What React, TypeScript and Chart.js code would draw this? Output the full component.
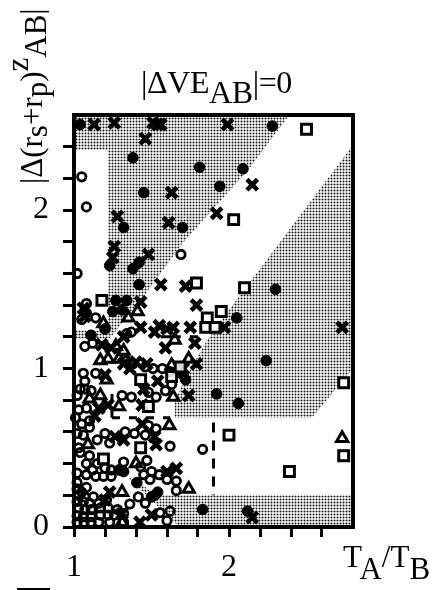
import React, { useEffect, useRef } from "react";
import { Chart, registerables } from "chart.js";

Chart.register(...registerables);

type P = [number, number];

const xTicksMin = 1, xTicksMax = 2.8, yTicksMin = 0, yTicksMax = 2.6, tickStep = 0.2;

const filledCircles: P[] = [[1.04,2.54],[2.28,2.53],[1.38,2.33],[1.81,2.27],[2.09,2.26],[1.94,2.15],[1.45,2.11],[1.32,1.89],[1.70,1.89],[1.23,1.65],[1.38,1.63],[1.42,1.67],[1.42,1.53],[2.30,1.50],[1.27,1.43],[1.34,1.43],[2.05,1.32],[1.25,1.36],[1.31,1.37],[2.24,1.05],[1.92,0.84],[2.06,0.78],[1.83,0.11],[2.12,0.10],[1.11,1.21],[1.20,1.25],[1.405,0.28],[1.32,0.35],[1.29,0.36],[1.52,0.20],[1.54,0.22],[1.50,0.19],[1.705,0.96],[1.72,0.93]];

const crosses: P[] = [[1.13,2.54],[1.26,2.55],[1.51,2.55],[1.56,2.54],[1.54,2.54],[1.99,2.54],[1.46,2.45],[1.63,2.11],[2.15,2.16],[1.92,1.98],[1.61,1.92],[1.28,1.96],[1.26,1.77],[1.25,1.70],[1.48,1.72],[1.56,1.53],[1.72,1.52],[1.43,1.42],[1.79,1.40],[1.06,1.38],[1.43,1.26],[1.55,1.27],[1.64,1.26],[1.75,1.26],[1.97,1.26],[2.73,1.26],[2.15,0.06],[1.60,1.25],[1.52,1.23],[1.59,1.13],[1.78,1.16],[1.32,1.20],[1.18,1.15],[1.32,1.03],[1.36,1.00],[1.40,1.04],[1.47,1.03],[1.79,1.03],[1.74,0.83],[1.54,0.92],[1.45,0.87],[1.44,0.77],[1.22,0.77],[1.44,0.65],[1.52,0.57],[1.53,0.52],[1.32,0.55],[1.265,0.57],[1.66,0.37],[1.60,0.35],[1.23,0.22],[1.425,0.03],[1.50,0.076],[1.20,0.17],[1.31,0.085],[1.16,0.75],[1.135,0.70],[1.20,0.96],[1.07,1.33],[1.24,1.13],[1.705,1.00]];

const squares: P[] = [[2.50,2.51],[2.03,1.94],[1.79,1.54],[2.10,1.51],[1.18,1.43],[1.95,1.36],[1.86,1.32],[1.85,1.26],[1.91,1.26],[2.74,0.91],[2.00,0.58],[2.74,0.45],[2.39,0.35],[1.43,0.93],[1.63,0.95],[1.685,1.01],[1.48,0.76],[1.19,0.43],[1.43,0.50]];

const triangles: P[] = [[2.73,0.56],[1.41,1.36],[1.35,1.32],[1.19,1.285],[1.65,1.18],[1.27,1.14],[1.32,1.11],[1.22,1.06],[1.17,1.05],[1.29,1.06],[1.63,1.02],[1.74,1.06],[1.21,0.93],[1.17,0.83],[1.10,0.81],[1.29,0.76],[1.64,0.82],[1.09,0.52],[1.40,0.40],[1.31,0.22],[1.74,0.24],[1.615,0.64],[1.31,0.03]];

const hollowCircles: P[] = [[1.05,2.21],[1.08,2.02],[1.69,1.72],[1.02,1.60],[1.08,1.41],[1.05,1.31],[1.08,1.35],[1.14,1.32],[1.07,1.14],[1.12,1.16],[1.37,1.23],[1.34,1.22],[1.34,1.05],[1.38,1.03],[1.46,1.01],[1.51,1.00],[1.57,1.00],[1.62,0.98],[1.06,0.97],[1.14,0.97],[1.07,0.92],[1.04,0.87],[1.07,0.87],[1.02,0.83],[1.11,0.86],[1.31,0.83],[1.37,0.82],[1.48,0.85],[1.53,0.82],[1.59,0.86],[1.63,0.90],[1.03,0.74],[1.08,0.75],[1.01,0.69],[1.05,0.65],[1.10,0.67],[1.10,0.63],[1.02,0.59],[1.06,0.58],[1.15,0.55],[1.20,0.59],[1.23,0.53],[1.33,0.60],[1.39,0.59],[1.46,0.58],[1.48,0.64],[1.53,0.62],[1.62,0.51],[1.83,0.49],[1.03,0.50],[1.04,0.47],[1.10,0.45],[1.08,0.40],[1.15,0.40],[1.20,0.37],[1.24,0.36],[1.12,0.36],[1.02,0.34],[1.08,0.33],[1.14,0.32],[1.19,0.32],[1.24,0.32],[1.02,0.28],[1.32,0.41],[1.43,0.38],[1.47,0.42],[1.45,0.33],[1.50,0.35],[1.49,0.30],[1.55,0.33],[1.60,0.30],[1.66,0.29],[1.66,0.23],[1.02,0.24],[1.05,0.22],[1.08,0.25],[1.03,0.20],[1.07,0.19],[1.125,0.19],[1.02,0.16],[1.06,0.16],[1.10,0.15],[1.16,0.15],[1.21,0.17],[1.03,0.12],[1.07,0.11],[1.11,0.11],[1.17,0.12],[1.22,0.12],[1.28,0.11],[1.02,0.07],[1.06,0.065],[1.11,0.065],[1.17,0.075],[1.22,0.075],[1.26,0.075],[1.32,0.085],[1.02,0.03],[1.065,0.03],[1.11,0.03],[1.16,0.03],[1.23,0.03],[1.32,0.03],[1.60,0.04],[1.62,0.10],[1.555,0.09],[1.36,0.145],[1.415,0.19],[1.46,0.15]];

const regionUpper: P[] = [[1,2.6],[2.39,2.6],[2.12,2.25],[1.70,1.79],[1.43,1.43],[1.23,1.19],[1,1.19],[1,1.24],[1.22,1.24],[1.22,2.38],[1,2.38]];
const regionLower: P[] = [[2.8,2.41],[2.0,1.37],[1.86,1.18],[1.74,0.98],[1.65,0.80],[1.65,0.69],[2.535,0.69],[2.8,1.0]];
const regionBottom: P[] = [[1.34,0.32],[1.45,0.26],[1.52,0.2],[2.8,0.2],[2.8,0],[1.68,0]];

const dashHorizontalLow: P[] = [[1.245,0.69],[1.62,0.69]];
const dashLeft: P[] = [[1.245,0.84],[1.245,0.69]];
const dashVertical: P[] = [[1.9,0.66],[1.9,0.2]];
const dashHorizontalHigh: P[] = [[1.56,1.2],[1.8,1.2]];

const serif = '"Liberation Serif", serif';

const toXY = (a: P[]) => a.map(([x, y]) => ({ x, y }));

function stipple(): CanvasPattern | string {
  const c = document.createElement("canvas");
  c.width = 3;
  c.height = 3;
  const g = c.getContext("2d");
  if (!g) return "#bbb";
  g.fillStyle = "#eeeeee";
  g.fillRect(0, 0, 3, 3);
  g.fillStyle = "#9c9c9c";
  g.fillRect(1, 0, 1, 3);
  g.fillRect(0, 1, 3, 1);
  g.fillStyle = "#111111";
  g.fillRect(1, 1, 1, 1);
  return g.createPattern(c, "repeat") || "#bbb";
}

const sub = (t: string, dy: number) => (
  <span style={{ position: "relative", top: dy }}>{t}</span>
);

const abs = (left: number, top: number, size: number): React.CSSProperties => ({
  position: "absolute",
  left,
  top,
  fontFamily: serif,
  fontSize: size,
  lineHeight: `${size}px`,
  whiteSpace: "nowrap",
  color: "#000",
});

export default function App() {
  const ref = useRef<HTMLCanvasElement>(null);
  useEffect(() => {
    if (!ref.current) return;
    const pattern = stipple();
    const region = (d: P[]) => ({
      type: "scatter" as const,
      data: toXY(d),
      showLine: true,
      fill: "shape",
      backgroundColor: pattern,
      borderWidth: 0,
      pointRadius: 0,
      order: 10,
    });
    const dash = (d: P[], seg: number[]) => ({
      type: "scatter" as const,
      data: toXY(d),
      showLine: true,
      borderColor: "#000",
      borderWidth: 3,
      borderDash: seg,
      pointRadius: 0,
      order: 9,
    });
    const marks = (d: P[], style: string, radius: number, width: number, fillc: string, order: number) => ({
      type: "scatter" as const,
      data: toXY(d),
      pointStyle: style,
      pointRadius: radius,
      pointBorderWidth: width,
      pointBorderColor: "#000",
      pointBackgroundColor: fillc,
      clip: false,
      order,
    });
    const hideEnd = (max: number) => (c: any) =>
      c.tick && c.tick.value > max ? "rgba(0,0,0,0)" : "#000";
    const wholeOnly = (v: any) => {
      const n = Number(v);
      return Math.abs(n - Math.round(n)) < 1e-6 && n < 2.5 ? String(Math.round(n)) : "";
    };
    const frame = {
      id: "frame",
      afterDatasetsDraw(chart: any) {
        const { ctx, chartArea: a } = chart;
        ctx.save();
        ctx.strokeStyle = "#000";
        ctx.lineWidth = 4;
        ctx.strokeRect(a.left, a.top, a.right - a.left, a.bottom - a.top);
        ctx.restore();
      },
    };
    const chart = new Chart(ref.current, {
      type: "scatter",
      data: {
        datasets: [
          region(regionUpper),
          region(regionLower),
          region(regionBottom),
          dash(dashHorizontalLow, [8, 9]),
          dash(dashLeft, [8, 9]),
          dash(dashVertical, [10, 8]),
          dash(dashHorizontalHigh, [20, 9]),
          marks(hollowCircles, "circle", 4.2, 2.8, "rgba(0,0,0,0)", 5),
          marks(filledCircles, "circle", 5.3, 1, "#000", 4),
          marks(crosses, "crossRot", 7.5, 4.5, "#000", 3),
          marks(triangles, "triangle", 6.5, 3, "rgba(0,0,0,0)", 2),
          marks(squares, "rect", 7, 3, "rgba(255,255,255,0.85)", 1),
        ] as any,
      },
      options: {
        animation: false,
        responsive: false,
        events: [],
        layout: { padding: { left: 0, top: 115, right: 82, bottom: 0 } },
        plugins: { legend: { display: false }, tooltip: { enabled: false }, title: { display: false } },
        scales: {
          x: {
            type: "linear",
            min: xTicksMin,
            max: xTicksMax,
            afterFit: (s: any) => { s.height = 63; },
            border: { color: "#000", width: 3 },
            grid: { drawOnChartArea: false, drawTicks: true, tickLength: 10, tickWidth: 3, tickColor: hideEnd(2.7) },
            ticks: {
              stepSize: tickStep,
              autoSkip: false,
              maxRotation: 0,
              color: "#000",
              padding: 11,
              font: { family: serif, size: 32 },
              callback: wholeOnly,
            },
          },
          y: {
            type: "linear",
            min: yTicksMin,
            max: yTicksMax,
            afterFit: (s: any) => { s.width = 74; },
            border: { color: "#000", width: 3 },
            grid: { drawOnChartArea: false, drawTicks: true, tickLength: 11, tickWidth: 3, tickColor: hideEnd(2.5) },
            ticks: {
              stepSize: tickStep,
              autoSkip: false,
              color: "#000",
              padding: 14,
              font: { family: serif, size: 32 },
              callback: wholeOnly,
            },
          },
        },
      } as any,
      plugins: [frame],
    });
    return () => chart.destroy();
  }, []);

  return (
    <div style={{ position: "absolute", left: 0, top: 0, width: 435, height: 590, overflow: "hidden", background: "#fff" }}>
      <canvas ref={ref} width={435} height={590} style={{ display: "block" }} />
      <div style={{ ...abs(141, 66, 32), letterSpacing: -0.4 }}>
        |ΔVE{sub("AB", 10)}|=0
      </div>
      <div style={abs(343, 541, 31)}>
        T{sub("A", 12)}/T{sub("B", 12)}
      </div>
      <div style={{ ...abs(16, 184, 31), transform: "rotate(-90deg)", transformOrigin: "0 0" }}>
        |Δ(r{sub("s", 5)}+r{sub("p", 5)}){sub("z", -14)}{sub("AB", 4)}|
      </div>
      <div style={{ position: "absolute", left: 17, top: 588, width: 33, height: 2, background: "#000" }} />
    </div>
  );
}
